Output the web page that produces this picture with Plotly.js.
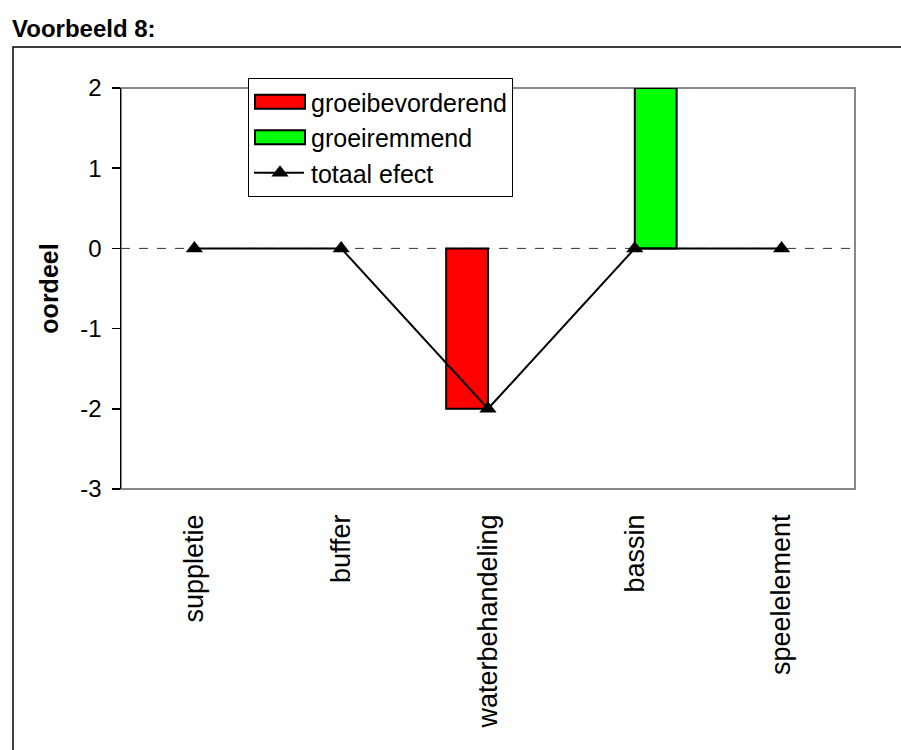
<!DOCTYPE html>
<html>
<head>
<meta charset="utf-8">
<script src="https://cdn.plot.ly/plotly-3.0.1.min.js"></script>
<style>html,body{margin:0;padding:0;background:#fff;}#chart{width:901px;height:750px;}</style>
</head>
<body>
<div id="chart"></div>
<script>
const categories = ["suppletie", "buffer", "waterbehandeling", "bassin", "speelelement"];
const groeibevorderend = [null, null, -2, null, null];
const groeiremmend = [null, null, null, 2, null];
const totaalEfect = [0, 0, -2, 0, 0];
const yTicks = [-3, -2, -1, 0, 1, 2];
const yTickLabels = ["-3", "-2", "-1", "0", "1", "2"];
const boundaryTicks = [-0.5, 0.5, 1.5, 2.5, 3.5, 4.5];

const font = "Arial, 'Liberation Sans', sans-serif";

const traces = [
  {type: "bar", name: "groeibevorderend", x: categories, y: groeibevorderend,
   marker: {color: "#ff0000", line: {color: "#000", width: 2}}, legendgroup: "a"},
  {type: "bar", name: "groeiremmend", x: categories, y: groeiremmend,
   marker: {color: "#00ff00", line: {color: "#000", width: 2}}, legendgroup: "b"},
  {type: "scatter", mode: "lines+markers", name: "totaal efect", x: categories, y: totaalEfect,
   line: {color: "#000", width: 2}, marker: {symbol: "triangle-up", size: 15, color: "#000"}, legendgroup: "c"}
];

const layout = {
  width: 901, height: 750,
  margin: {l: 121, r: 46, t: 88, b: 261},
  paper_bgcolor: "#fff", plot_bgcolor: "#fff",
  font: {family: font, size: 24, color: "#000"},
  showlegend: true,
  barmode: "group", bargap: 0.43, bargroupgap: 0,
  annotations: [{text: "<b>Voorbeeld 8:</b>", xref: "paper", yref: "paper",
    x: (10 - 121) / 734, y: (489 - 29) / 401, xanchor: "left", yanchor: "middle",
    showarrow: false, font: {family: font, size: 24, color: "#000"}}],
  legend: {x: (248 - 121) / 734, y: (489 - 78) / 401, xanchor: "left", yanchor: "top",
    bgcolor: "#fff", bordercolor: "#000", borderwidth: 1,
    font: {family: font, size: 25, color: "#000"},
    traceorder: "grouped", tracegroupgap: 0, itemwidth: 52},
  xaxis: {type: "category", range: [-0.5, 4.5], showgrid: false, zeroline: false,
    showline: false, ticks: "", tickangle: -90, ticklabelstandoff: 19,
    tickfont: {family: font, size: 27, color: "#000"}, fixedrange: true},
  xaxis2: {type: "linear", overlaying: "x", anchor: "free", position: 0.6, range: [-0.5, 4.5],
    tickvals: boundaryTicks, ticks: "outside", ticklen: 9, tickcolor: "#666", tickwidth: 1,
    showticklabels: false, showline: false, showgrid: false, zeroline: false},
  xaxis3: {type: "linear", overlaying: "x", anchor: "free", position: 0.6, range: [-0.5, 4.5],
    tickvals: boundaryTicks, ticks: "inside", ticklen: 9, tickcolor: "#aaa", tickwidth: 1,
    showticklabels: false, showline: false, showgrid: false, zeroline: false},
  yaxis: {range: [-3, 2], tickvals: yTicks, ticktext: yTickLabels, ticks: "outside", ticklen: 8,
    tickcolor: "#000", tickwidth: 1.5, showline: true, linecolor: "#000", linewidth: 1.5,
    showgrid: false, zeroline: false, ticklabelstandoff: 5,
    tickfont: {family: font, size: 24, color: "#000"},
    title: {text: "<b>oordeel</b>", font: {family: font, size: 25, color: "#000"}, standoff: 14}},
  yaxis2: {overlaying: "y", range: [-3, 2], tickvals: yTicks, ticks: "inside", ticklen: 8,
    tickcolor: "#000", tickwidth: 1.5, showticklabels: false, showline: false, showgrid: false,
    zeroline: false},
  shapes: [
    {type: "rect", xref: "paper", yref: "paper", x0: 0, x1: 1, y0: 0, y1: 1,
     line: {color: "#888", width: 2}, layer: "below"},
    {type: "line", xref: "paper", yref: "y", x0: 0, x1: 1, y0: 0, y1: 0,
     line: {color: "#333", width: 1, dash: "dash"}, layer: "below"},
    {type: "rect", xref: "paper", yref: "paper", x0: (13 - 121) / 734, x1: (960 - 121) / 734,
     y0: (489 - 800) / 401, y1: (489 - 47) / 401, line: {color: "#000", width: 1.5}, layer: "below"}
  ]
};

Plotly.newPlot("chart", traces, layout, {displayModeBar: false, staticPlot: true}).then(function (gd) {
  // widen legend swatches to match the reference's long rectangles
  const items = gd.querySelectorAll(".legend .traces");
  items.forEach(function (item, i) {
    const pts = item.querySelector("g.legendpoints");
    if (!pts) return;
    if (i < 2) {
      pts.querySelectorAll("path").forEach(function (p) {
        p.setAttribute("d", "M-25,-7h50v14h-50z");
        p.style.strokeWidth = "2px";
      });
    } else {
      const ln = item.querySelector("g.legendlines path");
      if (ln) ln.setAttribute("d", "M5,0h50");
    }
  });
});
</script>
</body>
</html>
